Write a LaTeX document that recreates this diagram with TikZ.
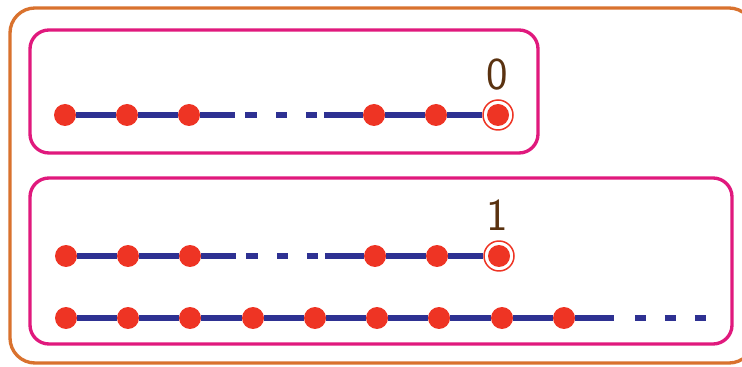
\documentclass[tikz,border=0pt]{standalone}
\usepackage{tikz}
\usetikzlibrary{positioning}
\definecolor{dotred}{RGB}{238,52,36}
\definecolor{chainblue}{RGB}{46,49,146}
\definecolor{boxpink}{RGB}{224,25,125}
\definecolor{frameorange}{RGB}{217,114,46}
\definecolor{labbrown}{RGB}{90,50,16}
\tikzset{
  dot/.style={circle,inner sep=0pt,minimum size=0.44cm,fill=dotred},
  ringdot/.style={circle,inner sep=0pt,minimum size=0.6cm,draw=dotred,line width=0.85pt,fill=white},
  chain/.style={draw=chainblue,line width=2.9pt},
  gapline/.style={chain,dash pattern=on 19.8pt off 5.7pt on 6.8pt off 10.8pt on 6.2pt off 10.8pt on 6.2pt off 4pt on 40pt},
  tailline/.style={chain,dash pattern=on 22.1pt off 11.9pt on 6.2pt off 10.8pt on 6.2pt off 10.8pt on 6.2pt off 40pt},
  groupbox/.style={draw=boxpink,line width=1.9pt,rounded corners=0.38cm},
  framebox/.style={draw=frameorange,line width=1.9pt,rounded corners=0.5cm},
  lab/.style={text=labbrown,font=\fontsize{26}{30}\sffamily,inner sep=0pt}
}
\begin{document}
\begin{tikzpicture}[x=0.02cm,y=-0.02cm]
\useasboundingbox (0,0) rectangle (742,367);
% frames
\draw[framebox] (10,8) rectangle (754,363);
\draw[groupbox] (30,30) rectangle (538,153);
\draw[groupbox] (30,178) rectangle (732,344);
% first group
\node[ringdot] at (498,115)(r0){};
\node[dot] at (65,115)(a0){};
\node[dot] at (127,115)(a1){};
\node[dot] at (189,115)(a2){};
\node[dot] at (374,115)(a3){};
\node[dot] at (436,115)(a4){};
\node[dot] at (498,115)(a5){};
\node[lab] at (497,75)(lab0){0};
\draw[chain] (a0) -- (a1);
\draw[chain] (a1) -- (a2);
\draw[gapline] (a2) -- (a3);
\draw[chain] (a3) -- (a4);
\draw[chain] (a4) -- (r0);
% second group
\node[ringdot] at (499,256)(r1){};
\node[dot] at (66,256)(b0){};
\node[dot] at (128,256)(b1){};
\node[dot] at (190,256)(b2){};
\node[dot] at (375,256)(b3){};
\node[dot] at (437,256)(b4){};
\node[dot] at (499,256)(b5){};
\node[lab] at (497,215)(lab1){1};
\draw[chain] (b0) -- (b1);
\draw[chain] (b1) -- (b2);
\draw[gapline] (b2) -- (b3);
\draw[chain] (b3) -- (b4);
\draw[chain] (b4) -- (r1);
% infinite row
\node[dot] at (66,318)(c0){};
\node[dot] at (128,318)(c1){};
\node[dot] at (190,318)(c2){};
\node[dot] at (253,318)(c3){};
\node[dot] at (315,318)(c4){};
\node[dot] at (377,318)(c5){};
\node[dot] at (439,318)(c6){};
\node[dot] at (502,318)(c7){};
\node[dot] at (564,318)(c8){};
\coordinate (cend) at (706,318);
\draw[chain] (c0) -- (c1);
\draw[chain] (c1) -- (c2);
\draw[chain] (c2) -- (c3);
\draw[chain] (c3) -- (c4);
\draw[chain] (c4) -- (c5);
\draw[chain] (c5) -- (c6);
\draw[chain] (c6) -- (c7);
\draw[chain] (c7) -- (c8);
\draw[tailline] (c8) -- (cend);
\end{tikzpicture}
\end{document}
